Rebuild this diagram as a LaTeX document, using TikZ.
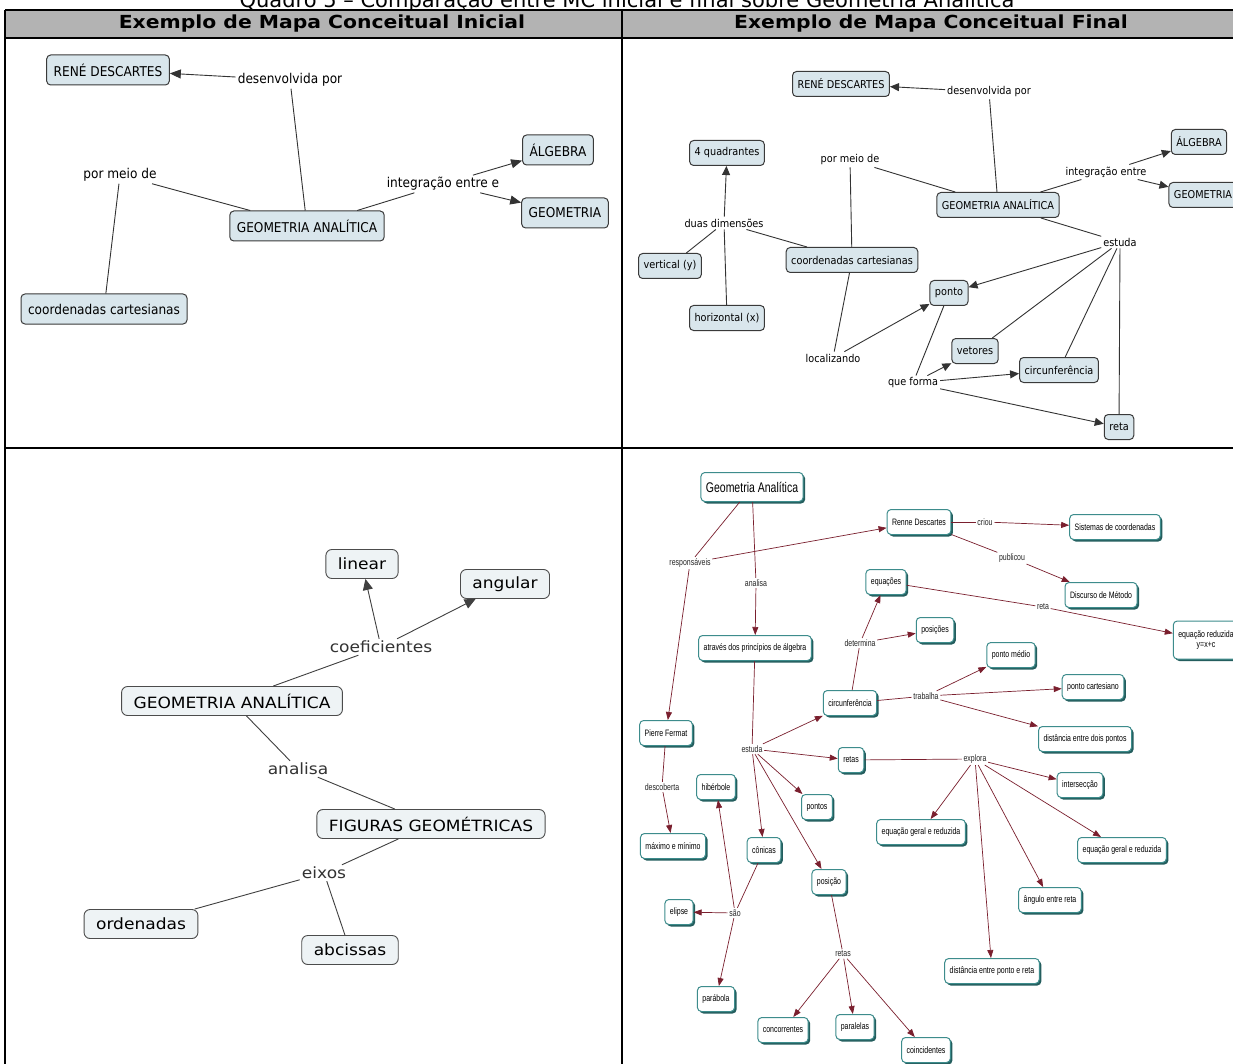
\documentclass[tikz,border=0pt]{standalone}
\usepackage{fontspec}
\setmainfont{DejaVu Sans}
\newfontfamily\headfont[FakeStretch=1.13]{DejaVu Sans}
\newfontfamily\cmapfont[FakeStretch=0.9]{DejaVu Sans}
\newfontfamily\widefont[FakeStretch=1.1]{DejaVu Sans}
\newfontfamily\narrowfont[FakeStretch=0.75]{Liberation Sans}
\usepackage{xcolor}
\usetikzlibrary{positioning, calc, shapes, shadows, arrows.meta}
\definecolor{headgray}{HTML}{B3B3B3}
\definecolor{cmapfill}{HTML}{D9E6EC}
\definecolor{cmapline}{HTML}{3A3A3A}
\definecolor{lightfill}{HTML}{EEF3F5}
\definecolor{tealline}{HTML}{3D8C8C}
\definecolor{tealshadow}{HTML}{245E5E}
\definecolor{relmaroon}{HTML}{7A1F2E}

\begin{document}
\begin{tikzpicture}[x=1pt, y=-1pt]
	\tikzset{conA/.style={draw=cmapline, fill=cmapfill, rounded corners=4pt, line width=1pt, inner xsep=7pt, minimum height=30pt, font=\cmapfont\fontsize{13.5}{15}\selectfont}}
	\tikzset{linkA/.style={inner sep=2pt, font=\cmapfont\fontsize{13.5}{15}\selectfont}}
	\tikzset{lineA/.style={draw=black!80, line width=0.9pt}}
	\tikzset{arrowA/.style={lineA, -{Triangle[length=11pt, width=9pt]}}}
	\tikzset{conB/.style={conA, inner xsep=5pt, minimum height=25pt, font=\cmapfont\fontsize{10.8}{12}\selectfont}}
	\tikzset{linkB/.style={inner sep=2pt, font=\cmapfont\fontsize{10.8}{12}\selectfont}}
	\tikzset{arrowB/.style={lineA, -{Triangle[length=9pt, width=8pt]}}}
	\tikzset{conC/.style={draw=black!70, fill=lightfill, rounded corners=6pt, line width=0.9pt, inner xsep=12pt, minimum height=29pt, font=\widefont\fontsize{15.5}{17}\selectfont}}
	\tikzset{linkC/.style={inner sep=2pt, text=black!80, font=\widefont\fontsize{15.5}{17}\selectfont}}
	\tikzset{lineC/.style={draw=black!75, line width=0.9pt}}
	\tikzset{arrowC/.style={lineC, -{Triangle[length=11pt, width=10pt]}}}
	\tikzset{conD/.style={draw=tealline, fill=white, rounded corners=4pt, line width=1pt, inner xsep=5pt, minimum height=25pt, font=\narrowfont\fontsize{9.3}{10.5}\selectfont, drop shadow={shadow xshift=2pt, shadow yshift=-2pt, fill=tealshadow, opacity=1}}}
	\tikzset{linkD/.style={inner sep=1.5pt, text=black!85, font=\narrowfont\fontsize{9.3}{10.5}\selectfont}}
	\tikzset{relD/.style={draw=relmaroon, line width=0.7pt}}
	\tikzset{arrowD/.style={relD, -{Triangle[length=8pt, width=6pt]}}}

	\useasboundingbox (0,0) rectangle (1233,1064);

	% table
	\node (title) [anchor=base, font=\fontsize{21}{21}\selectfont] at (627,8) {Quadro 5 – Comparação entre MC inicial e final sobre Geometria Analítica};
	\fill[white] (0,10) rectangle (1240,1070);
	\fill[headgray] (5,10) rectangle (1240,38);
	\draw[line width=1.5pt] (5,10) -- (1240,10);
	\draw[line width=1.5pt] (5,38) -- (1240,38);
	\draw[line width=1.5pt] (5,448) -- (1240,448);
	\draw[line width=1.5pt] (5,10) -- (5,1070);
	\draw[line width=1.5pt] (622,10) -- (622,1070);
	\node (hleft) [font=\headfont\bfseries\fontsize{18}{18}\selectfont] at (322,24) {Exemplo de Mapa Conceitual Inicial};
	\node (hright) [font=\headfont\bfseries\fontsize{18}{18}\selectfont] at (931,24) {Exemplo de Mapa Conceitual Final};

	% inicial, top
	\node (rd1) [conA] at (108,70) {RENÉ DESCARTES};
	\node (dp1) [linkA] at (290,80) {desenvolvida por};
	\node (ga1) [conA] at (307,226) {GEOMETRIA ANALÍTICA};
	\node (pm1) [linkA] at (120,175) {por meio de};
	\node (cc1) [conA] at (104,309) {coordenadas cartesianas};
	\node (ie1) [linkA] at (443,184) {integração entre e};
	\node (al1) [conA] at (558,150) {ÁLGEBRA};
	\node (ge1) [conA] at (565,213) {GEOMETRIA};

	\draw[arrowA] (dp1) -- (rd1);
	\draw[lineA] (ga1) -- (dp1);
	\draw[lineA] (ga1) -- (pm1);
	\draw[lineA] (pm1) -- (cc1);
	\draw[lineA] (ga1) -- (ie1);
	\draw[arrowA] (ie1) -- (al1);
	\draw[arrowA] (ie1) -- (ge1);

	% final, top
	\node (rd2) [conB] at (841,84) {RENÉ DESCARTES};
	\node (dp2) [linkB] at (989,92) {desenvolvida por};
	\node (ga2) [conB] at (998,205) {GEOMETRIA ANALÍTICA};
	\node (qd2) [conB] at (727,153) {4 quadrantes};
	\node (pm2) [linkB] at (850,160) {por meio de};
	\node (al2) [conB] at (1199,142) {ÁLGEBRA};
	\node (ge2) [conB] at (1203,195) {GEOMETRIA};
	\node (ie2) [linkB] at (1106,172) {integração entre};
	\node (dd2) [linkB] at (724,223) {duas dimensões};
	\node (vy2) [conB] at (670,266) {vertical (y)};
	\node (hx2) [conB] at (727,318) {horizontal (x)};
	\node (cc2) [conB] at (852,260) {coordenadas cartesianas};
	\node (es2) [linkB] at (1120,242) {estuda};
	\node (po2) [conB] at (949,293) {ponto};
	\node (lo2) [linkB] at (833,358) {localizando};
	\node (ve2) [conB] at (975,351) {vetores};
	\node (ci2) [conB] at (1059,370) {circunferência};
	\node (re2) [conB] at (1119,427) {reta};
	\node (qf2) [linkB] at (913,383) {que forma};

	\draw[arrowB] (dp2) -- (rd2);
	\draw[lineA] (ga2) -- (dp2);
	\draw[lineA] (ga2) -- (pm2);
	\draw[lineA] (pm2) -- (cc2);
	\draw[lineA] (ga2) -- (ie2);
	\draw[arrowB] (ie2) -- (al2);
	\draw[arrowB] (ie2) -- (ge2);
	\draw[lineA] (cc2) -- (dd2);
	\draw[arrowB] (dd2) -- (qd2);
	\draw[lineA] (dd2) -- (vy2);
	\draw[lineA] (dd2) -- (hx2);
	\draw[lineA] (ga2) -- (es2);
	\draw[arrowB] (es2) -- (po2);
	\draw[lineA] (es2) -- (ve2);
	\draw[lineA] (es2) -- (ci2);
	\draw[lineA] (es2) -- (re2);
	\draw[lineA] (cc2) -- (lo2);
	\draw[arrowB] (lo2) -- (po2);
	\draw[lineA] (po2) -- (qf2);
	\draw[arrowB] (qf2) -- (ve2);
	\draw[arrowB] (qf2) -- (ci2);
	\draw[arrowB] (qf2) -- (re2);

	% inicial, bottom
	\node (li3) [conC] at (362,564) {linear};
	\node (an3) [conC] at (505,584) {angular};
	\node (co3) [linkC] at (381,647) {coeficientes};
	\node (ga3) [conC] at (232,701) {GEOMETRIA ANALÍTICA};
	\node (as3) [linkC] at (298,769) {analisa};
	\node (fg3) [conC] at (431,824) {FIGURAS GEOMÉTRICAS};
	\node (ei3) [linkC] at (324,873) {eixos};
	\node (or3) [conC] at (141,924) {ordenadas};
	\node (ab3) [conC] at (350,950) {abcissas};

	\draw[lineC] (ga3) -- (co3);
	\draw[arrowC] (co3) -- (li3);
	\draw[arrowC] (co3) -- (an3);
	\draw[lineC] (ga3) -- (as3);
	\draw[lineC] (as3) -- (fg3);
	\draw[lineC] (fg3) -- (ei3);
	\draw[lineC] (ei3) -- (or3);
	\draw[lineC] (ei3) -- (ab3);

	% final, bottom
	\node (ga4) [conD, minimum height=29pt, font=\narrowfont\fontsize{14}{16}\selectfont] at (752,487) {Geometria Analítica};
	\node (rd4) [conD] at (919,522) {Renne Descartes};
	\node (rs4) [linkD] at (690,563) {responsáveis};
	\node (am4) [linkD] at (756,583) {analisa};
	\node (ap4) [conD] at (755,648) {através dos princípios de álgebra};
	\node (cr4) [linkD] at (985,522) {criou};
	\node (sc4) [conD] at (1115,527) {Sistemas de coordenadas};
	\node (pb4) [linkD] at (1012,558) {publicou};
	\node (dm4) [conD] at (1101,595) {Discurso de Método};
	\node (eq4) [conD] at (886,582) {equações};
	\node (rt4) [linkD] at (1043,607) {reta};
	\node (er4) [conD, align=center, minimum height=38pt] at (1206,640) {equação reduzida\\y=x+c};
	\node (dt4) [linkD] at (860,643) {determina};
	\node (ps4) [conD] at (935,630) {posições};
	\node (ci4) [conD] at (850,703) {circunferência};
	\node (tb4) [linkD] at (926,696) {trabalha};
	\node (pm4) [conD] at (1011,655) {ponto médio};
	\node (pc4) [conD] at (1093,687) {ponto cartesiano};
	\node (dd4) [conD] at (1085,739) {distância entre dois pontos};
	\node (pf4) [conD] at (666,733) {Pierre Fermat};
	\node (es4) [linkD] at (752,749) {estuda};
	\node (re4) [conD] at (851,760) {retas};
	\node (ex4) [linkD] at (975,759) {explora};
	\node (it4) [conD] at (1080,785) {intersecção};
	\node (dc4) [linkD] at (662,787) {descoberta};
	\node (hi4) [conD] at (716,787) {hibérbole};
	\node (pt4) [conD] at (817,807) {pontos};
	\node (eg4) [conD] at (921,832) {equação geral e reduzida};
	\node (mm4) [conD] at (673,846) {máximo e mínimo};
	\node (cn4) [conD] at (764,850) {cônicas};
	\node (eh4) [conD] at (1122,850) {equação geral e reduzida};
	\node (po4) [conD] at (829,882) {posição};
	\node (ag4) [conD] at (1050,900) {ângulo entre reta};
	\node (sa4) [linkD] at (735,913) {são};
	\node (el4) [conD] at (679,912) {elipse};
	\node (rl4) [linkD] at (843,954) {retas};
	\node (dr4) [conD] at (992,971) {distância entre ponto e reta};
	\node (pa4) [conD] at (716,999) {parábola};
	\node (cc4) [conD] at (783,1030) {concorrentes};
	\node (pl4) [conD] at (855,1027) {paralelas};
	\node (ct4) [conD] at (926,1050) {coincidentes};

	\draw[relD] (ga4) -- (rs4);
	\draw[arrowD] (rs4) -- (rd4);
	\draw[arrowD] (rs4) -- (pf4);
	\draw[relD] (ga4) -- (am4);
	\draw[arrowD] (am4) -- (ap4);
	\draw[relD] (rd4) -- (cr4);
	\draw[arrowD] (cr4) -- (sc4);
	\draw[relD] (rd4) -- (pb4);
	\draw[arrowD] (pb4) -- (dm4);
	\draw[relD] (eq4) -- (rt4);
	\draw[arrowD] (rt4) -- (er4);
	\draw[relD] (ci4) -- (dt4);
	\draw[arrowD] (dt4) -- (eq4);
	\draw[arrowD] (dt4) -- (ps4);
	\draw[relD] (ci4) -- (tb4);
	\draw[arrowD] (tb4) -- (pm4);
	\draw[arrowD] (tb4) -- (pc4);
	\draw[arrowD] (tb4) -- (dd4);
	\draw[relD] (ap4) -- (es4);
	\draw[arrowD] (es4) -- (ci4);
	\draw[arrowD] (es4) -- (re4);
	\draw[arrowD] (es4) -- (pt4);
	\draw[arrowD] (es4) -- (cn4);
	\draw[arrowD] (es4) -- (po4);
	\draw[relD] (re4) -- (ex4);
	\draw[arrowD] (ex4) -- (it4);
	\draw[arrowD] (ex4) -- (eg4);
	\draw[arrowD] (ex4) -- (eh4);
	\draw[arrowD] (ex4) -- (ag4);
	\draw[arrowD] (ex4) -- (dr4);
	\draw[relD] (pf4) -- (dc4);
	\draw[arrowD] (dc4) -- (mm4);
	\draw[relD] (cn4) -- (sa4);
	\draw[arrowD] (sa4) -- (el4);
	\draw[arrowD] (sa4) -- (hi4);
	\draw[arrowD] (sa4) -- (pa4);
	\draw[relD] (po4) -- (rl4);
	\draw[arrowD] (rl4) -- (cc4);
	\draw[arrowD] (rl4) -- (pl4);
	\draw[arrowD] (rl4) -- (ct4);
\end{tikzpicture}
\end{document}
